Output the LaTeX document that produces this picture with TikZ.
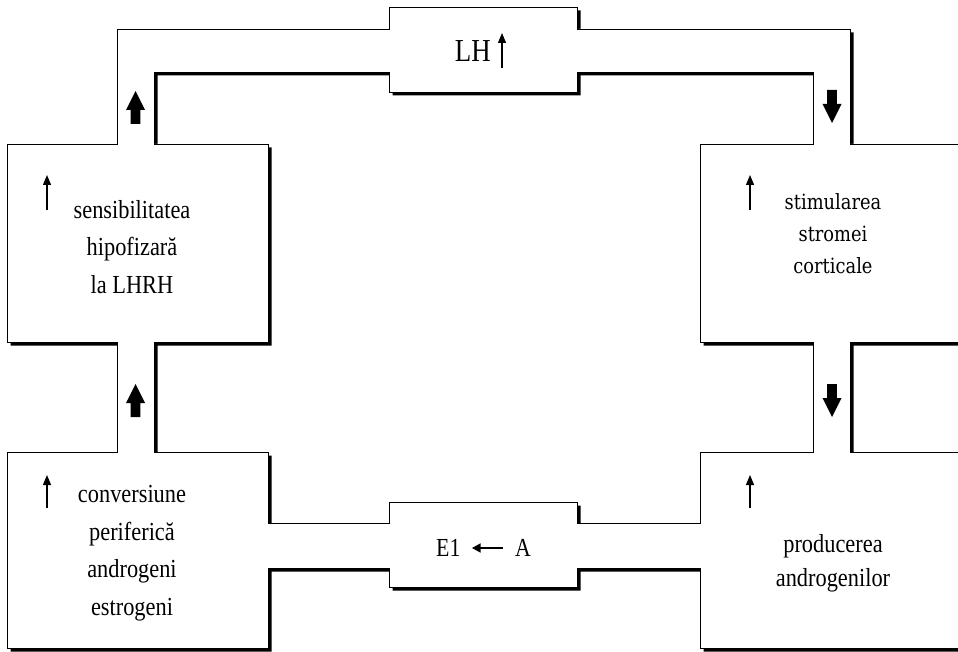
\documentclass[tikz,border=0pt]{standalone}
\usepackage{fontspec}
\setmainfont{Liberation Serif}
\newfontfamily\narrowserif[FakeStretch=0.86]{Liberation Serif}
\newfontfamily\labelserif[FakeStretch=0.84]{Liberation Serif}
\newfontfamily\stromafont[FakeStretch=0.85]{DejaVu Serif}
\usetikzlibrary{arrows.meta}

% outline of the closed channel: outer contour, then the inner contour
\newcommand\channelpath{%
  (7,144) -- (117,144) -- (117,29) -- (389,29) -- (389,7) -- (577,7) -- (577,29)
  -- (850,29) -- (850,144) -- (975,144) -- (975,342) -- (850,342) -- (850,452)
  -- (975,452) -- (975,648) -- (700,648) -- (700,568) -- (577,568) -- (577,587)
  -- (389,587) -- (389,568) -- (268,568) -- (268,648) -- (7,648) -- (7,452)
  -- (117,452) -- (117,342) -- (7,342) -- cycle
  (154,72) -- (389,72) -- (389,92) -- (577,92) -- (577,72) -- (813,72)
  -- (813,144) -- (700,144) -- (700,342) -- (813,342) -- (813,452) -- (700,452)
  -- (700,523) -- (577,523) -- (577,502) -- (389,502) -- (389,523) -- (268,523)
  -- (268,452) -- (154,452) -- (154,342) -- (268,342) -- (268,144) -- (154,144)
  -- cycle}

\tikzset{
  boxtext/.style={font=\narrowserif\fontsize{26}{37.5}\selectfont, align=center, inner sep=0pt},
  cortextext/.style={font=\stromafont\fontsize{21}{32}\selectfont, align=center, inner sep=0pt},
  hormone/.style={font=\labelserif\fontsize{26}{28}\selectfont, inner sep=0pt},
  risearrow/.style={line width=1.2pt, -{Triangle[width=8pt,length=10pt]}},
  blockarrow/.pic={\fill (-4.8,0) -- (-4.8,-14) -- (-9.5,-14) -- (0,-33)
                     -- (9.5,-14) -- (4.8,-14) -- (4.8,0) -- cycle;}
}

\begin{document}
\begin{tikzpicture}[x=1pt,y=-1pt]
\useasboundingbox (0,0) rectangle (958,652);
\fill[white] (0,0) rectangle (958,652);

\begin{scope}
  \clip (0,0) rectangle (958,652);
  % drop shadow of the channel walls
  \begin{scope}[shift={(3.5,3.5)}]
    \fill[black, even odd rule] \channelpath;
  \end{scope}
  % channel walls
  \filldraw[fill=white, draw=black, line width=0.9pt, even odd rule] \channelpath;
\end{scope}

% top connector: LH
\node[font=\labelserif\fontsize{32}{34}\selectfont, inner sep=0pt, anchor=base east] (lh) at (491,62) {LH};
\coordinate (lhb) at (502,68);
\coordinate (lht) at (502,33);
\draw[risearrow] (lhb) -- (lht);

% bottom connector: E1 <- A
\node[hormone, anchor=base west] (e1) at (436,556) {E1};
\node[hormone, anchor=base east] (andr) at (531,556) {A};
\coordinate (convR) at (503,548);
\coordinate (convL) at (472,548);
\draw[line width=1.3pt, -{Triangle[width=9pt,length=8.5pt]}] (convR) -- (convL);

% top-left box
\node[boxtext] (sens) at (132,247) {sensibilitatea\\hipofizară\\la LHRH};
\coordinate (sensb) at (47,210);
\coordinate (senst) at (47,175);
\draw[risearrow] (sensb) -- (senst);

% top-right box
\node[cortextext] (strom) at (833,234) {stimularea\\stromei\\corticale};
\coordinate (stromb) at (750,210);
\coordinate (stromt) at (750,175);
\draw[risearrow] (stromb) -- (stromt);

% bottom-left box
\node[boxtext] (conv) at (132,553) {conversiune\\periferică\\androgeni\\estrogeni};
\coordinate (convb) at (47,508);
\coordinate (convt) at (47,475);
\draw[risearrow] (convb) -- (convt);

% bottom-right box
\node[boxtext, font=\narrowserif\fontsize{26}{34}\selectfont] (prod) at (833,563) {producerea\\androgenilor};
\coordinate (prodb) at (750,508);
\coordinate (prodt) at (750,475);
\draw[risearrow] (prodb) -- (prodt);

% flow arrows in the channel
\pic (flowA) at (135.5,124) {blockarrow};
\pic (flowB) at (135.5,417) {blockarrow};
\pic[rotate=180] (flowC) at (832,90) {blockarrow};
\pic[rotate=180] (flowD) at (832,384) {blockarrow};
\end{tikzpicture}
\end{document}
